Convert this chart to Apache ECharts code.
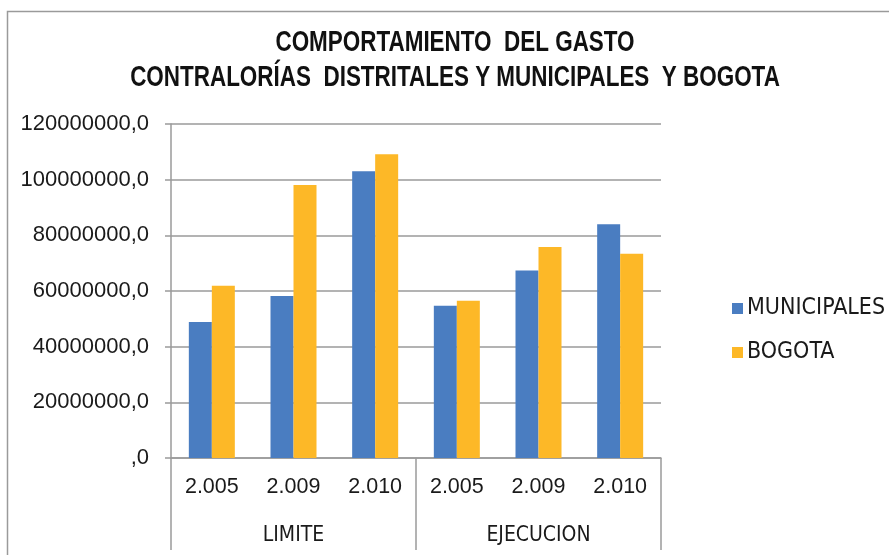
<!DOCTYPE html>
<html>
<head>
<meta charset="utf-8">
<script src="https://cdn.jsdelivr.net/npm/echarts@6/dist/echarts.min.js"></script>
<style>html,body{margin:0;padding:0;background:#fff;}#c{width:889px;height:555px;}</style>
</head>
<body>
<div id="c"></div>
<script>
var titleLines = ['COMPORTAMIENTO  DEL GASTO', 'CONTRALORÍAS  DISTRITALES Y MUNICIPALES  Y BOGOTA'];
var yearLabels = ['2.005', '2.009', '2.010', '2.005', '2.009', '2.010'];
var groupLabels = ['LIMITE', 'EJECUCION'];
var seriesNames = ['MUNICIPALES', 'BOGOTA'];
var municipales = [48900000, 58200000, 103000000, 54700000, 67400000, 84000000];
var bogota = [61900000, 98100000, 109100000, 56500000, 75800000, 73400000];
var yTicks = [0, 20000000, 40000000, 60000000, 80000000, 100000000, 120000000];

var COND = "'DejaVu Sans Condensed', 'Liberation Sans', sans-serif";
var SANS = "'Liberation Sans', Arial, sans-serif";
var TXT = '#1a1a1a';
var chart = echarts.init(document.getElementById('c'), null, {renderer: 'canvas'});
chart.setOption({
  animation: false,
  backgroundColor: '#fff',
  color: ['#4A7DC1', '#FDB827'],
  graphic: [{
    type: 'rect', silent: true,
    shape: {x: 7.5, y: 11.5, width: 1000, height: 1000},
    style: {fill: 'none', stroke: '#9a9a9a', lineWidth: 1.5}
  }, {
    type: 'text', silent: true,
    x: 455, y: 25, scaleX: 0.774,
    style: {
      text: titleLines.join('\n'),
      font: "bold 29px 'Liberation Sans', Arial, sans-serif",
      fill: '#111', align: 'center', verticalAlign: 'top', lineHeight: 35
    }
  }],
  legend: {
    orient: 'vertical', left: 727, top: 292,
    itemWidth: 11, itemHeight: 11, itemGap: 21,
    icon: 'rect',
    data: seriesNames,
    textStyle: {fontFamily: COND, fontSize: 23, color: TXT, padding: [0, 0, 0, -1]}
  },
  grid: {left: 171, top: 124, right: 228, bottom: 97, containLabel: false},
  xAxis: [{
    type: 'category', data: yearLabels, position: 'bottom',
    axisLine: {show: true, lineStyle: {color: '#9a9a9a', width: 1.5}},
    axisTick: {show: false},
    axisLabel: {fontFamily: SANS, fontSize: 21.5, color: TXT, margin: 18, interval: 0}
  }, {
    type: 'category', data: groupLabels, position: 'bottom',
    axisLine: {show: false},
    axisTick: {show: true, length: 92, interval: 0, lineStyle: {color: '#9a9a9a', width: 1.5}},
    axisLabel: {fontFamily: COND, fontSize: 21, color: TXT, margin: 67, interval: 0},
    splitLine: {show: false}
  }],
  yAxis: {
    type: 'value', min: yTicks[0], max: yTicks[yTicks.length - 1], interval: 20000000,
    axisLine: {show: true, lineStyle: {color: '#9a9a9a', width: 1.5}},
    axisTick: {show: true, length: 6, lineStyle: {color: '#9a9a9a', width: 1.5}},
    splitLine: {show: true, lineStyle: {color: '#9a9a9a', width: 1.5}},
    axisLabel: {
      fontFamily: SANS, fontSize: 22, color: TXT, margin: 22,
      formatter: function (v) { return v === 0 ? ',0' : v + ',0'; }
    }
  },
  series: [{
    name: seriesNames[0], type: 'bar', data: municipales, barWidth: 23, barGap: '0%', xAxisIndex: 0
  }, {
    name: seriesNames[1], type: 'bar', data: bogota, barWidth: 23, barGap: '0%', xAxisIndex: 0
  }]
});
</script>
</body>
</html>
